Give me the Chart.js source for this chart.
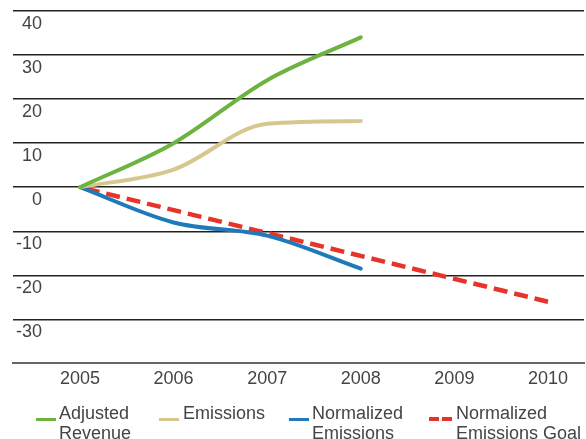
<!DOCTYPE html>
<html>
<head>
<meta charset="utf-8">
<script src="https://cdn.jsdelivr.net/npm/chart.js@4"></script>
<style>
html,body{margin:0;padding:0;background:#fff;}
#wrap{position:relative;width:586px;height:439px;overflow:hidden;background:#fff;}
#c{position:absolute;left:0;top:0;}
#legend{position:absolute;left:0;top:0;width:586px;height:439px;font-family:'Liberation Sans',Arial,sans-serif;font-size:18px;line-height:20px;color:#444;}
.sw{position:absolute;height:3px;}
.lt{position:absolute;white-space:pre;}
</style>
</head>
<body>
<div id="wrap">
<canvas id="c" width="586" height="395"></canvas>
<div id="legend"></div>
</div>
<script>
// ---- data ----
const years = [2005, 2006, 2007, 2008];
const adjustedRevenue = [0, 10, 24.3, 34];
const emissions = [0, 4, 14.4, 15];
const normalizedEmissions = [0, -8, -11, -18.5];
const goalYears = [2005, 2010];
const goalValues = [0, -26];
const xTickValues = [2005, 2006, 2007, 2008, 2009, 2010];
const yTickValues = [-40, -30, -20, -10, 0, 10, 20, 30, 40];
const seriesNames = ['Adjusted\nRevenue', 'Emissions', 'Normalized\nEmissions', 'Normalized\nEmissions Goal'];
const seriesColors = ['#6cb33f', '#d6c78f', '#1f7ab9', '#e8332b'];

const FONT = "'Liberation Sans', Arial, sans-serif";
const toPts = (xs, ys) => xs.map((x, i) => ({x: x, y: ys[i]}));

const common = {pointRadius: 0, pointHoverRadius: 0, borderWidth: 4, cubicInterpolationMode: 'monotone', fill: false,
  borderCapStyle: 'round', borderJoinStyle: 'round'};

new Chart(document.getElementById('c'), {
  type: 'line',
  data: {
    datasets: [
      Object.assign({}, common, {label: seriesNames[0], data: toPts(years, adjustedRevenue), borderColor: seriesColors[0]}),
      Object.assign({}, common, {label: seriesNames[1], data: toPts(years, emissions), borderColor: seriesColors[1]}),
      Object.assign({}, common, {label: seriesNames[2], data: toPts(years, normalizedEmissions), borderColor: seriesColors[2]}),
      Object.assign({}, common, {label: seriesNames[3], data: toPts(goalYears, goalValues), borderColor: seriesColors[3],
        borderDash: [14, 7], borderDashOffset: 15, borderCapStyle: 'butt', borderWidth: 4.5, cubicInterpolationMode: 'default', tension: 0})
    ]
  },
  options: {
    responsive: false,
    animation: false,
    layout: {padding: {left: 9, right: 2, top: 11, bottom: 0}},
    plugins: {legend: {display: false}, tooltip: {enabled: false}},
    scales: {
      x: {
        type: 'linear',
        min: 2004.284,
        max: 2010.385,
        afterBuildTicks: s => { s.ticks = xTickValues.map(v => ({value: v})); },
        afterFit: s => { s.paddingLeft = 0; s.paddingRight = 0; },
        grid: {display: false, drawTicks: false},
        border: {display: true, color: '#666', width: 2},
        ticks: {padding: 5, autoSkip: false, maxRotation: 0, color: '#444',
          font: {family: FONT, size: 18}, callback: v => String(v)}
      },
      y: {
        min: -40,
        max: 40,
        afterBuildTicks: s => { s.ticks = yTickValues.map(v => ({value: v})); },
        afterFit: s => { s.paddingTop = 0; s.paddingBottom = 0; s.width = 4; },
        grid: {drawTicks: false, lineWidth: 1.5,
          color: c => (c.tick && c.tick.value === -40) ? 'rgba(0,0,0,0)' : '#222'},
        border: {display: false},
        ticks: {mirror: true, crossAlign: 'far', padding: 3, labelOffset: 13, autoSkip: false,
          color: '#444', font: {family: FONT, size: 18},
          callback: v => (v === -40 ? '' : String(v))}
      }
    }
  }
});

// ---- HTML legend ----
const swLeft = [36, 159, 289, 429];
const txtLeft = [59, 183, 312, 456];
const leg = document.getElementById('legend');
seriesNames.forEach((name, i) => {
  const sw = document.createElement('div');
  sw.className = 'sw';
  sw.style.left = swLeft[i] + 'px';
  sw.style.top = (i === 3 ? 417 : 417.5) + 'px';
  sw.style.width = (i === 3 ? 23 : 20) + 'px';
  if (i === 3) {
    sw.style.height = '4px';
    sw.style.background = 'repeating-linear-gradient(to right,' + seriesColors[i] + ' 0 10px, transparent 10px 13px)';
  } else {
    sw.style.background = seriesColors[i];
  }
  leg.appendChild(sw);
  const t = document.createElement('div');
  t.className = 'lt';
  t.style.left = txtLeft[i] + 'px';
  t.style.top = '403px';
  t.textContent = name;
  leg.appendChild(t);
});
</script>
</body>
</html>
